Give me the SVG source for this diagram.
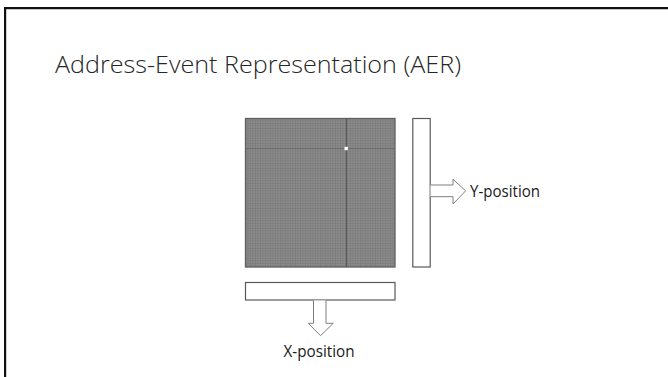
<svg xmlns="http://www.w3.org/2000/svg" width="668" height="377" viewBox="0 0 668 377">
  <defs>
    <!-- fine pixel grid for the sensor array -->
    <pattern id="pixgrid" x="245" y="118" width="2.5" height="2.5" patternUnits="userSpaceOnUse">
      <rect width="2.5" height="2.5" fill="#8c8c8c"/>
      <rect width="2.5" height="0.8" fill="#7c7c7c"/>
      <rect width="0.8" height="2.5" fill="#7c7c7c"/>
    </pattern>
    <style>
      .frame { fill: none; stroke: #111; stroke-width: 2.2; }
      .bus { fill: #fff; stroke: #595959; stroke-width: 1.2; }
      .arrow { fill: #fff; stroke: #7f7f7f; stroke-width: 1; }
      .label { font-family: "Open Sans", "Liberation Sans", sans-serif; font-size: 15.5px; fill: #1a1a1a; }
      .title { font-family: "Open Sans", "Liberation Sans", sans-serif; font-weight: 300; font-size: 24.5px; fill: #262626; }
    </style>
  </defs>

  <rect width="668" height="377" fill="#fff"/>
  <!-- slide frame: left and top edges only -->
  <path class="frame" d="M5.1,377 V8.1 H668"/>

  <text class="title" x="55" y="73" textLength="406" lengthAdjust="spacingAndGlyphs">Address-Event Representation (AER)</text>

  <!-- sensor array -->
  <g id="array">
    <rect x="245.5" y="118.5" width="149.5" height="148.5" fill="url(#pixgrid)" stroke="#5e5e5e" stroke-width="1.3"/>
    <line x1="245.5" y1="148.5" x2="395" y2="148.5" stroke="#6a6a6a" stroke-width="1.2"/>
    <line x1="346.5" y1="118.5" x2="346.5" y2="267" stroke="#5a5a5a" stroke-width="1.2"/>
    <rect x="344.5" y="146.8" width="3.4" height="3.4" fill="#fff"/>
  </g>

  <!-- row (Y) encoder -->
  <g id="y-encoder">
    <rect class="bus" x="412.8" y="118.5" width="17.4" height="148.5"/>
  </g>

  <!-- column (X) encoder -->
  <g id="x-encoder">
    <rect class="bus" x="245.5" y="282.5" width="149.5" height="17.5"/>
  </g>

  <g id="connectors">
    <path class="arrow" d="M430.5,185 H453 V179.3 L465.7,190.8 L453,204 V196.7 H430.5"/>
    <path class="arrow" d="M313.5,300.5 V323.3 H308.3 L320.5,335.7 L333.3,323.3 H326 V300.5"/>
  </g>

  <g id="y-label">
    <text class="label" x="470" y="197" textLength="70" lengthAdjust="spacingAndGlyphs">Y-position</text>
  </g>
  <g id="x-label">
    <text class="label" x="283.5" y="357" textLength="71" lengthAdjust="spacingAndGlyphs">X-position</text>
  </g>
</svg>
